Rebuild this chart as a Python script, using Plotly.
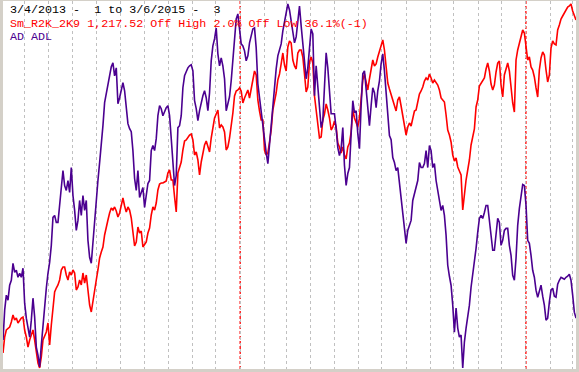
import pandas as pd
import plotly.graph_objects as go

start_date = "2013-03-04"
end_date = "2015-03-06"

# Smoothed Russell 2000 (Sm_R2K_2K9)
r2k = [897,913,920,922,923,928,935,930,932,927,
       930,932,933,920,913,903,910,915,920,910,
       900,887,882,893,910,914,918,927,905,925,
       943,958,962,965,970,980,983,983,975,970,
       978,975,980,977,960,963,970,965,977,967,
       975,960,945,938,950,962,970,980,992,998,
       1003,1015,1024,1030,1037,1042,1040,1043,1039,1033,
       1037,1044,1052,1044,1038,1043,1040,1032,1017,1004,
       1008,1023,1017,1019,1003,1005,1008,1017,1022,1035,
       1043,1040,1047,1060,1066,1067,1067,1068,1069,1077,
       1080,1070,1070,1053,1038,1077,1082,1088,1100,1109,
       1110,1113,1115,1116,1110,1095,1098,1090,1075,1088,
       1097,1105,1109,1103,1098,1112,1123,1132,1136,1140,
       1122,1125,1123,1118,1100,1103,1112,1123,1137,1154,
       1159,1160,1162,1159,1147,1152,1156,1160,1152,1162,
       1172,1179,1175,1150,1139,1130,1130,1100,1095,1097,
       1108,1120,1140,1148,1157,1170,1176,1186,1197,1185,
       1179,1203,1209,1207,1190,1184,1181,1197,1200,1200,
       1193,1176,1158,1163,1188,1193,1187,1154,1140,1127,
       1112,1113,1130,1136,1146,1140,1132,1120,1123,1129,
       1123,1107,1103,1097,1103,1095,1091,1103,1107,1118,
       1140,1132,1128,1123,1132,1150,1170,1176,1166,1160,
       1171,1180,1190,1184,1186,1193,1199,1205,1210,1200,
       1184,1167,1161,1155,1150,1144,1139,1150,1153,1144,
       1133,1122,1115,1123,1127,1124,1133,1139,1140,1150,
       1156,1159,1163,1169,1172,1170,1176,1172,1167,1170,
       1168,1165,1160,1152,1150,1148,1135,1120,1115,1108,
       1095,1089,1092,1083,1079,1075,1040,1058,1070,1080,
       1090,1105,1113,1121,1143,1150,1164,1167,1170,1172,
       1181,1187,1179,1166,1160,1165,1178,1187,1189,1165,
       1153,1175,1181,1187,1179,1160,1147,1138,1190,1200,
       1206,1214,1220,1217,1201,1190,1193,1183,1180,1173,
       1162,1153,1180,1192,1198,1195,1180,1168,1175,1202,
       1209,1206,1205,1220,1225,1231,1234,1237,1240,1243,
       1244,1246,1239,1235,1230]

# Advance/Decline line (AD ADL) (relative units)
adl = [60,90,105,100,115,120,137,128,130,123,
       127,123,132,97,82,70,63,80,102,83,
       53,45,33,55,75,100,112,127,138,155,
       183,185,178,178,197,210,230,215,210,220,
       208,233,205,190,170,180,200,185,205,190,
       200,160,143,137,160,178,200,220,238,255,
       275,298,308,317,328,334,338,325,333,297,
       303,312,318,310,290,277,272,269,250,222,
       210,230,203,208,213,193,205,217,220,250,
       255,250,262,285,295,292,285,290,293,295,
       285,262,240,215,225,273,275,285,313,325,
       329,333,335,336,330,300,292,280,290,298,
       305,310,303,290,308,340,355,362,373,347,
       335,343,335,322,290,297,304,320,340,362,
       382,387,370,357,355,350,340,345,358,367,
       372,373,353,317,302,293,277,260,248,237,
       257,273,300,314,332,345,350,357,370,378,
       387,397,391,380,370,358,364,383,395,375,
       357,342,322,333,358,372,367,305,335,313,
       290,273,280,312,348,333,310,287,287,287,
       272,253,245,252,273,235,215,227,233,262,
       300,288,290,267,252,295,327,330,312,287,
       275,295,313,308,293,310,320,337,347,330,
       305,280,265,261,243,238,230,233,218,203,
       190,172,157,170,176,180,200,206,212,220,
       238,233,233,237,250,233,255,250,233,237,
       220,210,200,190,195,185,165,135,124,115,
       95,68,92,72,63,65,32,58,72,82,
       95,113,125,138,152,168,182,185,182,188,
       195,195,180,164,150,150,170,182,178,155,
       160,170,172,172,155,145,125,120,142,175,
       192,203,216,215,195,160,157,145,130,123,
       110,103,110,115,104,95,80,82,98,110,
       112,104,103,116,120,123,122,121,123,124,
       126,120,105,88,82]

year_marks = ["2014-01-01", "2015-01-01"]

header_lines = [
    ("3/4/2013 -  1 to 3/6/2015 -  3", "#000000"),
    ("Sm_R2K_2K9 1,217.52 Off High 2.0% Off Low 36.1%(-1)", "#ff0000"),
    ("AD ADL", "#4b0090"),
]

dates = pd.date_range(start_date, end_date, periods=len(r2k))


def fit_range(vals):
    lo, hi = min(vals), max(vals)
    span = hi - lo
    return [lo - span * 1.0 / 365, hi + span * 3.0 / 365]


fig = go.Figure()
fig.add_trace(go.Scatter(x=dates, y=r2k, mode="lines", name="Sm_R2K_2K9",
                         line=dict(color="#ff0000", width=1.6), yaxis="y"))
fig.add_trace(go.Scatter(x=dates, y=adl, mode="lines", name="AD ADL",
                         line=dict(color="#4b0090", width=1.6), yaxis="y2"))

for d in year_marks:
    fig.add_shape(type="line", x0=d, x1=d, y0=0, y1=1, xref="x", yref="paper",
                  line=dict(color="#ff0000", width=1.3, dash="3px,2px"), layer="below")

for i, (txt, col) in enumerate(header_lines):
    fig.add_annotation(text=txt, xref="paper", yref="paper", x=0, y=1,
                       xanchor="left", yanchor="middle", showarrow=False,
                       xshift=5, yshift=-(9 + 13.5 * i),
                       font=dict(family="Liberation Mono, Courier New, monospace",
                                 size=11.7, color=col))

fig.update_layout(
    width=579, height=372,
    margin=dict(l=3, r=3, t=1, b=3, pad=0),
    paper_bgcolor="#d4d0c8", plot_bgcolor="#ffffff",
    showlegend=False,
    xaxis=dict(type="date", range=[start_date, end_date], dtick="M1",
               tick0="2013-04-01", showgrid=True, gridcolor="#c0c0c0",
               griddash="3px,3px", gridwidth=1, showticklabels=False,
               ticks="", zeroline=False, showline=False),
    yaxis=dict(range=fit_range(r2k), showgrid=False, showticklabels=False,
               zeroline=False, ticks=""),
    yaxis2=dict(range=fit_range(adl), overlaying="y", side="right",
                showgrid=False, showticklabels=False, zeroline=False, ticks=""),
)

fig.write_html("out.html", config={"displayModeBar": False},
               post_script="document.body.style.margin='0';document.body.style.overflow='hidden';")
